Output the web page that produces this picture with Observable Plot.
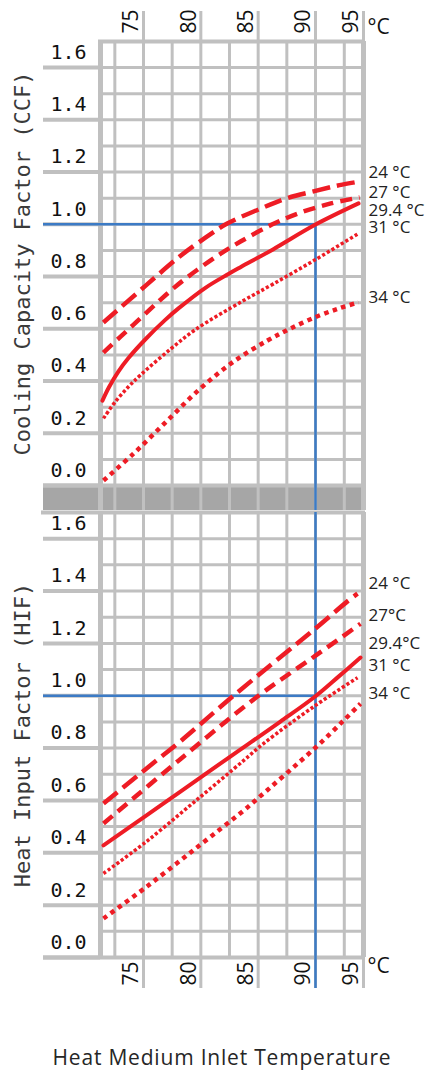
<!DOCTYPE html>
<html>
<head>
<meta charset="utf-8">
<script src="https://cdn.jsdelivr.net/npm/d3@7"></script>
<script src="https://cdn.jsdelivr.net/npm/@observablehq/plot@0.6"></script>
<style>
  html, body { margin: 0; padding: 0; background: #fff; }
  #chart { width: 429px; }
  #chart svg { display: block; }
  #xtitle { width: 429px; box-sizing: border-box; padding-left: 15px; margin-top: 39px;
            text-align: center; font-family: "Open Sans", sans-serif; font-size: 21px;
            line-height: 28px; letter-spacing: 0.8px; color: #262626; }
</style>
</head>
<body>
<div id="chart"></div>
<div id="xtitle"></div>
<script>
// ---------------- data ----------------
const tempTicks = [75, 80, 85, 90, 95];
const gridTemps = [72.5, 75, 77.5, 80, 82.5, 85, 87.5, 90, 93];
const tempEdges = [71.25, 95];
const factorTicks = [0, 0.2, 0.4, 0.6, 0.8, 1.0, 1.2, 1.4, 1.6];
const gridFactors = [0.1, 0.2, 0.3, 0.4, 0.5, 0.6, 0.7, 0.8, 0.9, 1.0, 1.1, 1.2, 1.3, 1.4, 1.5, 1.6];
const factorMax = 1.7;
const ratedTemp = 90;
const ratedFactor = 1.0;
const unitLabel = "°C";
const xTitle = "Heat Medium Inlet Temperature";
const ccfTitle = "Cooling Capacity Factor (CCF)";
const hifTitle = "Heat Input Factor (HIF)";

const ccfLabels = ["24 °C", "27 °C", "29.4 °C", "31 °C", "34 °C"];
const ccfLabelY = [1.198, 1.122, 1.053, 0.988, 0.720];
const hifLabels = ["24 °C", "27°C", "29.4°C", "31 °C", "34 °C"];
const hifLabelY = [1.428, 1.306, 1.199, 1.115, 1.008];

// Cooling capacity factor curves [temperature, factor]
const ccf24 = [[71.5,0.624],[75.0,0.758],[78.05,0.873],[80.4,0.949],[82.3,1.003],[85.2,1.060],[87.5,1.100],[90.0,1.128],[92.5,1.150],[94.6,1.164]];
const ccf27 = [[71.5,0.509],[73.0,0.570],[74.6,0.635],[76.2,0.700],[77.8,0.762],[79.7,0.826],[81.7,0.887],[83.5,0.935],[86.2,0.999],[88.7,1.045],[91.6,1.080],[94.6,1.103]];
const ccf29 = [[71.42,0.325],[72.0,0.377],[72.82,0.437],[73.69,0.488],[75.17,0.560],[76.92,0.635],[78.05,0.678],[80.4,0.757],[82.41,0.810],[83.46,0.836],[86.33,0.905],[90.0,0.999],[94.48,1.080]];
const ccf31 = [[71.51,0.257],[72.56,0.322],[73.69,0.378],[74.74,0.423],[77.35,0.522],[79.53,0.597],[83.72,0.708],[86.33,0.772],[90.0,0.865],[94.48,0.965]];
const ccf34 = [[71.51,0.019],[74.13,0.122],[77.09,0.249],[79.97,0.372],[82.85,0.474],[85.81,0.555],[87.82,0.601],[90.21,0.648],[92.6,0.680],[94.48,0.701]];

// Heat input factor curves [temperature, factor]
const hif24 = [[71.51,0.588],[76.22,0.756],[78.22,0.826],[82.76,0.997],[90.0,1.257],[93.44,1.364],[94.38,1.390]];
const hif27 = [[71.51,0.512],[78.05,0.752],[84.94,0.997],[90.0,1.153],[94.69,1.275]];
const hif29 = [[71.51,0.428],[75.17,0.540],[78.22,0.634],[82.32,0.760],[84.07,0.813],[86.94,0.901],[90.0,0.998],[92.4,1.073],[94.69,1.146]];
const hif31 = [[71.51,0.321],[75.17,0.440],[79.53,0.598],[83.72,0.752],[85.46,0.817],[90.0,0.963],[94.38,1.069]];
const hif34 = [[71.51,0.149],[75.17,0.267],[79.53,0.416],[83.72,0.561],[84.76,0.600],[90.0,0.802],[92.92,0.905],[94.69,0.970]];

// ---------------- styling / layout ----------------
const C = { red: "#ee1c25", blue: "#3c7bc5", grid: "#c0c0c0", band: "#a6a6a6", ink: "#111" };
const xRange = [100, 315, 363];
const xDomain = [tempEdges[0], ratedTemp, tempEdges[1]];
const pxPerDeg = (xRange[1] - xRange[0]) / (xDomain[1] - xDomain[0]);
const stubStart = tempEdges[0] - 57 / pxPerDeg;
const bandDepth = 25 / 261.2;
const curveStyles = [
  { dash: "18,7", width: 4.5, cap: "butt" },
  { dash: "12,7", width: 4.5, cap: "butt" },
  { dash: null, width: 4, cap: "round" },
  { dash: "3.2,2.2", width: 3.5, cap: "butt" },
  { dash: "4.5,4.5", width: 4.5, cap: "butt" }
];
const monoFont = "DejaVu Sans Mono";
const sansFont = "Open Sans";

function panel(o) {
  const bottom = o.top ? -bandDepth : 0;
  const marks = [];
  if (o.top) {
    marks.push(Plot.rect([bandDepth], { x1: stubStart, x2: tempEdges[1], y1: d => -d, y2: 0, fill: C.band }));
  }
  marks.push(
    Plot.ruleX(gridTemps, { y1: bottom, y2: factorMax, stroke: C.grid, strokeWidth: 3 }),
    Plot.ruleY(gridFactors, { x1: tempEdges[0], x2: tempEdges[1], stroke: C.grid, strokeWidth: 3 }),
    Plot.ruleY(factorTicks, { x1: stubStart, x2: tempEdges[0], stroke: C.grid, strokeWidth: 4 }),
    Plot.ruleY([0], { x1: stubStart, x2: tempEdges[1], stroke: C.grid, strokeWidth: 4 }),
    Plot.ruleY([factorMax], { x1: o.top ? tempEdges[0] : stubStart, x2: tempEdges[1], stroke: C.grid, strokeWidth: 4, strokeLinecap: "square" }),
    Plot.ruleX(tempEdges, { y1: bottom, y2: factorMax, stroke: C.grid, strokeWidth: 5 }),
    // rated-point guide lines
    Plot.ruleY([ratedFactor], { x1: stubStart, x2: ratedTemp, stroke: C.blue, strokeWidth: 2.5 }),
    Plot.ruleX([ratedTemp], { y1: bottom, y2: o.top ? ratedFactor : factorMax, stroke: C.blue, strokeWidth: 2.5 })
  );
  o.curves.forEach((c, i) => {
    const s = curveStyles[i];
    marks.push(Plot.line(c, {
      x: d => d[0], y: d => d[1], stroke: C.red, strokeWidth: s.width,
      strokeDasharray: s.dash, strokeLinecap: s.cap, curve: "catmull-rom"
    }));
  });
  marks.push(
    Plot.text(o.labels, { y: (d, i) => o.labelY[i], frameAnchor: "right", dx: 5, textAnchor: "start",
      fontSize: 17, fontFamily: sansFont, fill: "#222" }),
    Plot.axisY(factorTicks, { tickSize: 0, tickPadding: 14, dy: -15, tickFormat: d3.format(".1f"),
      fontFamily: monoFont, fontSize: 20, color: C.ink }),
    Plot.text([o.title], { frameAnchor: "left", rotate: -90, dx: -78, textAnchor: "middle",
      lineAnchor: "middle", fontFamily: monoFont, fontSize: 22, fill: "#3a3a3a" })
  );
  if (o.top) {
    marks.push(
      Plot.axisX(tempTicks, { anchor: "top", tickSize: 31, tickFormat: () => "", stroke: C.grid, strokeWidth: 3 }),
      Plot.axisX(tempTicks, { anchor: "top", tickSize: 0, tickPadding: 8, tickRotate: -90, dx: -12,
        textAnchor: "start", lineAnchor: "middle", fontFamily: sansFont, fontSize: 21, color: C.ink }),
      Plot.text([unitLabel], { frameAnchor: "top-right", dx: 4, dy: -22, textAnchor: "start",
        fontFamily: sansFont, fontSize: 21, fill: C.ink })
    );
  } else {
    marks.push(
      Plot.axisX(tempTicks, { anchor: "bottom", tickSize: 31, tickFormat: () => "", stroke: C.grid, strokeWidth: 3 }),
      Plot.axisX([ratedTemp], { anchor: "bottom", tickSize: 31, tickFormat: () => "", stroke: C.blue, strokeWidth: 2.5 }),
      Plot.axisX(tempTicks, { anchor: "bottom", tickSize: 0, tickPadding: 4, tickRotate: -90, dx: -12,
        textAnchor: "end", lineAnchor: "middle", fontFamily: sansFont, fontSize: 21, color: C.ink }),
      Plot.text([unitLabel], { frameAnchor: "bottom-right", dx: 4, dy: 15, textAnchor: "start",
        fontFamily: sansFont, fontSize: 21, fill: C.ink })
    );
  }
  return Plot.plot({
    width: 429,
    height: o.height,
    marginTop: o.marginTop,
    marginBottom: o.marginBottom,
    marginLeft: 100,
    marginRight: 66,
    x: { type: "linear", domain: xDomain, range: xRange, axis: null },
    y: { type: "linear", domain: [0, factorMax], range: [o.height - o.marginBottom, o.marginTop], axis: null },
    marks
  });
}

const chart = document.getElementById("chart");
chart.append(panel({
  top: true, height: 510, marginTop: 41, marginBottom: 25,
  curves: [ccf24, ccf27, ccf29, ccf31, ccf34], labels: ccfLabels, labelY: ccfLabelY, title: ccfTitle
}));
chart.append(panel({
  top: false, height: 494, marginTop: 2, marginBottom: 47,
  curves: [hif24, hif27, hif29, hif31, hif34], labels: hifLabels, labelY: hifLabelY, title: hifTitle
}));
document.getElementById("xtitle").textContent = xTitle;
</script>
</body>
</html>
